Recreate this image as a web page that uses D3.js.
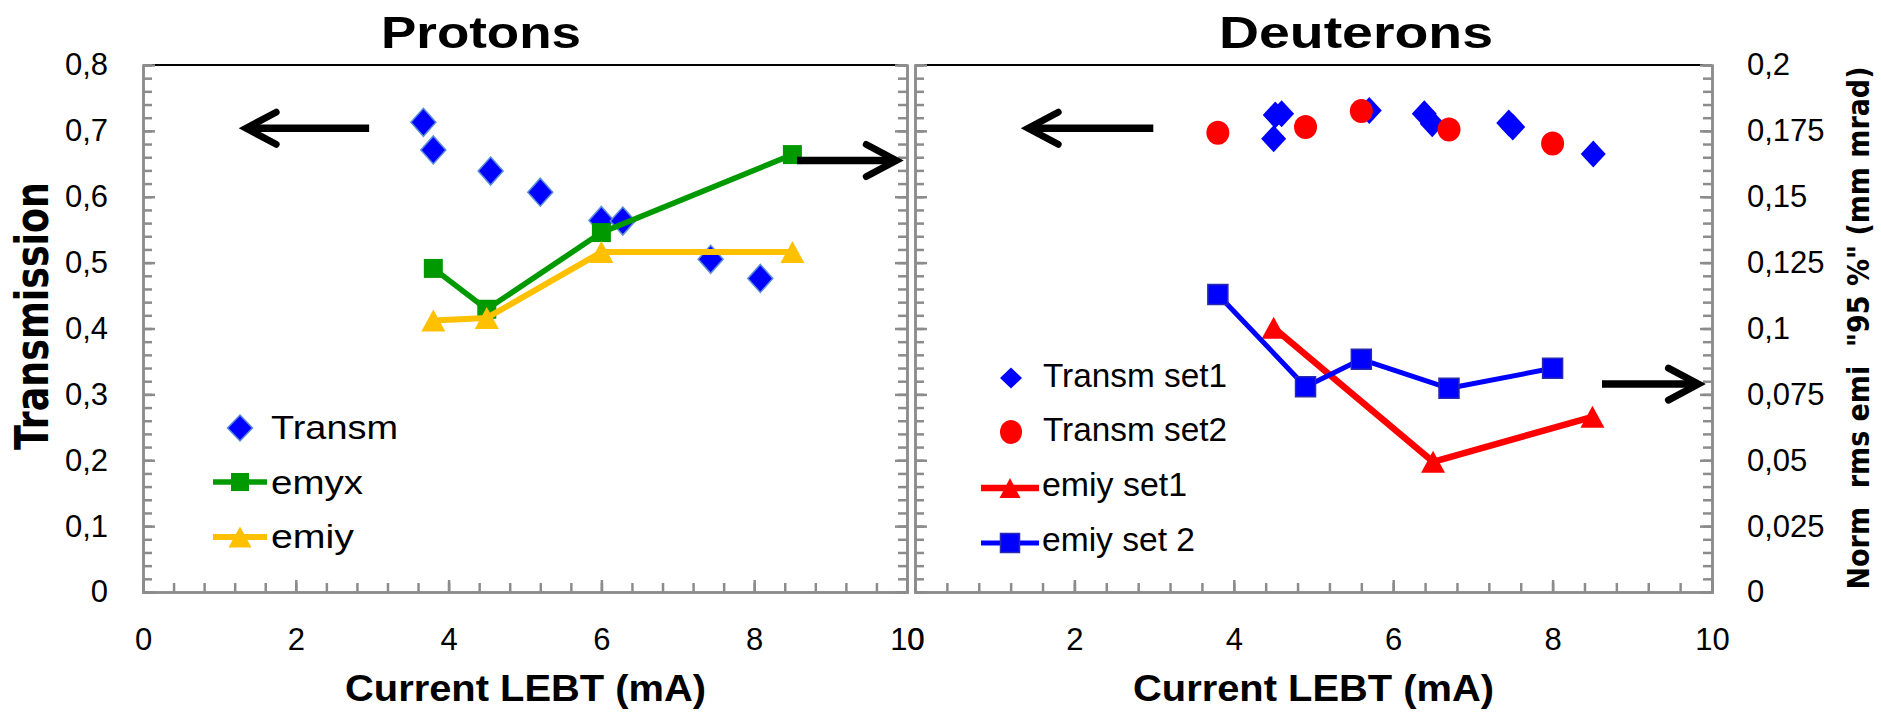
<!DOCTYPE html>
<html>
<head>
<meta charset="utf-8">
<script src="https://cdn.jsdelivr.net/npm/d3@7"></script>
<style>
  html, body { margin: 0; padding: 0; background: #fff; }
  svg text { font-family: 'Liberation Sans Narrow', 'Arial Narrow', 'Liberation Sans', sans-serif; fill: #000; }
  svg text.wide { font-family: 'DejaVu Sans', Verdana, sans-serif; font-weight: bold; white-space: pre; }
</style>
</head>
<body>
<svg id="chart" width="1881" height="712"></svg>
<script>
/* index.html - Protons / Deuterons transmission + emittance */

// ---- Protons ----
const protonCurrent = [3.67, 3.80, 4.55, 5.20, 6.00, 6.28, 7.43, 8.08];
const protonTransm  = [0.713, 0.671, 0.639, 0.607, 0.564, 0.563, 0.505, 0.476];
const protonEmiCurrent = [3.8, 4.5, 6.0, 8.5];
const protonEmyx = [0.1228, 0.1073, 0.1364, 0.166];
const protonEmiy = [0.103, 0.104, 0.129, 0.129];
const protonLegend = ["Transm", "emyx", "emiy"];

// ---- Deuterons ----
const d1Current = [4.50, 4.52, 4.60, 5.70, 6.39, 6.49, 7.45, 7.50, 8.51];
const d1Transm  = [0.688, 0.724, 0.726, 0.731, 0.726, 0.711, 0.712, 0.706, 0.665];
const d2Current = [3.8, 4.9, 5.6, 6.7, 8.0];
const d2Transm  = [0.697, 0.706, 0.730, 0.702, 0.681];
const emiySet1Current = [4.5, 6.5, 8.5];
const emiySet1 = [0.1003, 0.0494, 0.0665];
const emiySet2Current = [3.8, 4.9, 5.6, 6.7, 8.0];
const emiySet2 = [0.1129, 0.0779, 0.0883, 0.0773, 0.0849];
const deuteronLegend = ["Transm set1", "Transm set2", "emiy set1", "emiy set 2"];

// ---- axes ----
const xTicks = [0, 2, 4, 6, 8, 10];
const xTickLabels = ["0", "2", "4", "6", "8", "10"];
const yTicks = [0, 0.1, 0.2, 0.3, 0.4, 0.5, 0.6, 0.7, 0.8];
const yTickLabels = ["0", "0,1", "0,2", "0,3", "0,4", "0,5", "0,6", "0,7", "0,8"];
const y2Ticks = [0, 0.025, 0.05, 0.075, 0.1, 0.125, 0.15, 0.175, 0.2];
const y2TickLabels = ["0", "0,025", "0,05", "0,075", "0,1", "0,125", "0,15", "0,175", "0,2"];

const blue = "#0000FF", green = "#009A00", gold = "#FFC000", red = "#FF0000";
const axisGray = "#8C8C8C";

const svg = d3.select("#chart");

/************************************************
 * 1. marker shapes                             *
 ************************************************/
const diamondPath = (w, h) => `M0,${-h / 2}L${w / 2},0L0,${h / 2}L${-w / 2},0Z`;
const squarePath = s => `M${-s / 2},${-s / 2}h${s}v${s}h${-s}Z`;
const trianglePath = (w, h) => `M0,${-h / 2}L${w / 2},${h / 2}L${-w / 2},${h / 2}Z`;

function markers(g, xs, ys, pathStr, fill, stroke) {
  g.append("g").selectAll("path")
    .data(xs.map((x, i) => [x, ys[i]]))
    .join("path")
    .attr("d", pathStr)
    .attr("transform", d => `translate(${d[0]},${d[1]})`)
    .attr("fill", fill)
    .attr("stroke", stroke || "none")
    .attr("stroke-width", 1.5);
}

function line(g, xs, ys, color, w) {
  g.append("path")
    .attr("d", d3.line()(xs.map((x, i) => [x, ys[i]])))
    .attr("fill", "none")
    .attr("stroke", color)
    .attr("stroke-width", w)
    .attr("stroke-linejoin", "round");
}

/************************************************
 * 2. frame + axes for one panel                *
 ************************************************/
function panel(box, leftLabels, rightLabels) {
  const x = d3.scaleLinear([0, 10], [box.x0, box.x1]);
  const y = d3.scaleLinear([0, 0.8], [box.y1, box.y0]);
  const y2 = d3.scaleLinear([0, 0.2], [box.y1, box.y0]);
  const g = svg.append("g");

  // black top border
  g.append("line")
    .attr("x1", box.x0).attr("x2", box.x1)
    .attr("y1", box.y0).attr("y2", box.y0)
    .attr("stroke", "#000").attr("stroke-width", 2);

  const fmt = (vals, labels) => d => labels[vals.indexOf(d)];
  const none = () => "";

  const add = (axis, tr) => {
    const a = g.append("g").attr("transform", tr).call(axis);
    a.selectAll("line, path").attr("stroke", axisGray).attr("stroke-width", 2.5);
    a.selectAll("text").attr("font-size", 31).attr("font-family", null).attr("fill", "#000");
    return a;
  };

  // minor ticks
  add(d3.axisBottom(x).tickValues(d3.range(0, 10.01, 0.4)).tickSize(-9).tickFormat(none), `translate(0,${box.y1})`);
  add(d3.axisLeft(y).tickValues(d3.range(0, 0.801, 0.02)).tickSize(-9).tickFormat(none), `translate(${box.x0},0)`);
  add(d3.axisRight(y2).tickValues(d3.range(0, 0.2001, 0.005)).tickSize(-9).tickFormat(none), `translate(${box.x1},0)`);

  // major ticks + labels
  add(d3.axisBottom(x).tickValues(xTicks).tickSize(-12).tickSizeOuter(0).tickPadding(36)
    .tickFormat(fmt(xTicks, xTickLabels)), `translate(0,${box.y1})`);
  add(d3.axisLeft(y).tickValues(yTicks).tickSize(-12).tickSizeOuter(0).tickPadding(35)
    .tickFormat(leftLabels ? fmt(yTicks, yTickLabels) : none), `translate(${box.x0},0)`);
  add(d3.axisRight(y2).tickValues(y2Ticks).tickSize(-12).tickSizeOuter(0).tickPadding(35)
    .tickFormat(rightLabels ? fmt(y2Ticks, y2TickLabels) : none), `translate(${box.x1},0)`);

  return { g, x, y, y2 };
}

function arrow(g, tailX, tipX, yy) {
  const dir = tipX > tailX ? 1 : -1;
  g.append("path")
    .attr("d", `M${tailX},${yy}H${tipX - dir * 3}`)
    .attr("stroke", "#000").attr("stroke-width", 7.5).attr("fill", "none");
  g.append("path")
    .attr("d", `M${tipX - dir * 30},${yy - 16}L${tipX},${yy}L${tipX - dir * 30},${yy + 16}`)
    .attr("stroke", "#000").attr("stroke-width", 7).attr("fill", "none")
    .attr("stroke-linecap", "round").attr("stroke-linejoin", "miter");
}

function label(txt, x, y, size, len, opts = {}) {
  const t = svg.append("text")
    .attr("x", x).attr("y", y)
    .attr("font-size", size)
    .attr("textLength", len)
    .attr("lengthAdjust", "spacingAndGlyphs")
    .text(txt);
  if (opts.bold) t.attr("font-weight", "bold");
  if (opts.cls) t.attr("class", opts.cls);
  if (opts.anchor) t.attr("text-anchor", opts.anchor);
  if (opts.rotate) t.attr("transform", `rotate(-90,${x},${y})`);
  return t;
}

/************************************************
 * 3. Protons panel                             *
 ************************************************/
const P = panel({ x0: 143, x1: 907, y0: 65, y1: 592 }, true, false);
markers(P.g, protonCurrent.map(P.x), protonTransm.map(P.y), diamondPath(25, 28), blue, "#5B8FD8");
line(P.g, protonEmiCurrent.map(P.x), protonEmyx.map(P.y2), green, 5.5);
markers(P.g, protonEmiCurrent.map(P.x), protonEmyx.map(P.y2), squarePath(19), green);
line(P.g, protonEmiCurrent.map(P.x), protonEmiy.map(P.y2), gold, 6);
markers(P.g, protonEmiCurrent.map(P.x), protonEmiy.map(P.y2), trianglePath(24, 22), gold);
arrow(P.g, P.x(2.96), P.x(1.35), P.y(0.704));
arrow(P.g, P.x(8.56), P.x(9.86), P.y(0.655));

// legend
markers(P.g, [240], [428], diamondPath(25, 26), blue, "#5B8FD8");
line(P.g, [213, 267], [482, 482], green, 5.5);
markers(P.g, [240], [482], squarePath(18), green);
line(P.g, [213, 267], [537, 537], gold, 6);
markers(P.g, [240], [537], trianglePath(23, 21), gold);
label(protonLegend[0], 271, 439, 34, 127);
label(protonLegend[1], 271, 494, 34, 92);
label(protonLegend[2], 271, 548, 34, 83);

/************************************************
 * 4. Deuterons panel                           *
 ************************************************/
const D = panel({ x0: 915, x1: 1712, y0: 65, y1: 592 }, false, true);
markers(D.g, d1Current.map(D.x), d1Transm.map(D.y), diamondPath(25, 27), blue);
markers(D.g, d2Current.map(D.x), d2Transm.map(D.y), "M-11.5,0a11.5,12 0 1,0 23,0a11.5,12 0 1,0 -23,0Z", red);
line(D.g, emiySet1Current.map(D.x), emiySet1.map(D.y2), red, 6.5);
markers(D.g, emiySet1Current.map(D.x), emiySet1.map(D.y2), trianglePath(24, 22), red);
line(D.g, emiySet2Current.map(D.x), emiySet2.map(D.y2), blue, 5);
markers(D.g, emiySet2Current.map(D.x), emiySet2.map(D.y2), squarePath(20), blue, "#2A2AB0");
arrow(D.g, D.x(2.99), D.x(1.42), D.y(0.704));
arrow(D.g, D.x(8.62), D.x(9.83), D.y(0.3156));

// legend
markers(D.g, [1011], [378], diamondPath(22, 21), blue);
markers(D.g, [1011], [432], "M-11,0a11,12 0 1,0 22,0a11,12 0 1,0 -22,0Z", red);
line(D.g, [981, 1039], [488, 488], red, 6.5);
markers(D.g, [1010], [488], trianglePath(21, 20), red);
line(D.g, [981, 1039], [543, 543], blue, 5);
markers(D.g, [1010], [543], squarePath(19), blue, "#2A2AB0");
label(deuteronLegend[0], 1043, 387, 34, 184);
label(deuteronLegend[1], 1043, 441, 34, 184);
label(deuteronLegend[2], 1042, 496, 34, 145);
label(deuteronLegend[3], 1042, 551, 34, 153);

/************************************************
 * 5. titles                                    *
 ************************************************/
label("Protons", 381, 48, 45, 200, { bold: true });
label("Deuterons", 1219, 48, 45, 274, { bold: true });
label("Current LEBT (mA)", 345, 701, 37, 361, { bold: true });
label("Current LEBT (mA)", 1133, 701, 37, 361, { bold: true });
label("Transmission", 48, 316, 47, 268, { cls: "wide", anchor: "middle", rotate: true });
label("Norm  rms emi  \"95 %\" (mm mrad)", 1869, 328, 31, 523, { cls: "wide", anchor: "middle", rotate: true });
</script>
</body>
</html>
